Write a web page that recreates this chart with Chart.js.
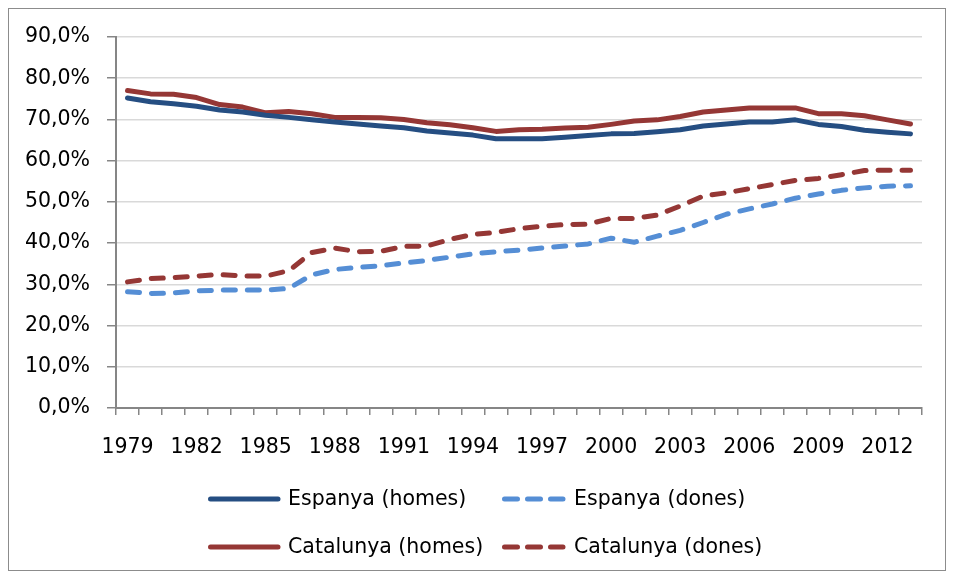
<!DOCTYPE html>
<html><head><meta charset="utf-8">
<script src="https://cdn.jsdelivr.net/npm/chart.js@4/dist/chart.umd.min.js"></script>
<style>html,body{margin:0;padding:0;background:#fff}#wrap{width:954px;height:578px;position:relative}</style>
</head><body><div id="wrap"><canvas id="c" width="954" height="578"></canvas></div>
<script>
const years = ['1979','1980','1981','1982','1983','1984','1985','1986','1987','1988','1989','1990','1991','1992','1993','1994','1995','1996','1997','1998','1999','2000','2001','2002','2003','2004','2005','2006','2007','2008','2009','2010','2011','2012','2013'];
const shownYears = ['1979','1982','1985','1988','1991','1994','1997','2000','2003','2006','2009','2012'];
const yTicks = [0,10,20,30,40,50,60,70,80,90];
const seriesNames = ['Espanya (homes)','Espanya (dones)','Catalunya (homes)','Catalunya (dones)'];
const espanyaHomes = [75.2,74.3,73.8,73.2,72.3,71.8,71.0,70.5,69.9,69.4,68.9,68.4,68.0,67.2,66.7,66.2,65.3,65.3,65.3,65.7,66.1,66.5,66.6,67.0,67.5,68.4,68.9,69.4,69.4,69.9,68.8,68.3,67.4,66.9,66.5];
const espanyaDones = [28.2,27.8,27.9,28.4,28.6,28.6,28.6,29.0,32.3,33.6,34.1,34.5,35.2,35.8,36.6,37.4,37.9,38.3,38.8,39.3,39.8,41.2,40.2,41.7,43.1,45.0,47.0,48.3,49.5,50.9,51.9,52.8,53.4,53.8,53.9];
const catalunyaHomes = [77.0,76.2,76.1,75.3,73.6,73.0,71.6,71.9,71.4,70.5,70.5,70.4,70.0,69.2,68.7,68.0,67.1,67.5,67.6,67.9,68.1,68.8,69.6,69.9,70.7,71.8,72.3,72.8,72.8,72.8,71.4,71.4,70.9,69.9,68.9];
const catalunyaDones = [30.6,31.4,31.6,32.0,32.4,32.0,32.0,33.3,37.7,38.8,37.9,38.0,39.2,39.3,40.9,42.1,42.6,43.5,44.1,44.5,44.6,46.0,46.0,46.8,49.0,51.4,52.2,53.2,54.2,55.2,55.7,56.6,57.6,57.7,57.7];

const FONT = 'DejaVu Sans';
const FSIZE = 20.5;
const AXIS = '#868686';
const BLUE_DARK = '#254E82', BLUE_LIGHT = '#558ED5', RED = '#953735';

const fmtPct = v => v.toFixed(1).replace('.', ',') + '%';

const extras = {
  id: 'extras',
  afterDraw(chart) {
    const ctx = chart.ctx;
    ctx.save();
    // outer frame
    ctx.strokeStyle = '#8c8c8c';
    ctx.lineWidth = 1;
    ctx.strokeRect(8.5, 8.5, 937, 562);
    // legend
    const pos = [{x: 208, y: 499}, {x: 502, y: 499}, {x: 208, y: 547}, {x: 502, y: 547}];
    chart.data.datasets.forEach((ds, i) => {
      const p = pos[i];
      ctx.beginPath();
      ctx.strokeStyle = ds.borderColor;
      ctx.lineWidth = 5;
      ctx.lineCap = 'round';
      if (ds.borderDash) {
        ctx.setLineDash([13, 10]);
        ctx.moveTo(p.x + 2.5, p.y); ctx.lineTo(p.x + 61, p.y);
      } else {
        ctx.setLineDash([]);
        ctx.moveTo(p.x + 2.5, p.y); ctx.lineTo(p.x + 70, p.y);
      }
      ctx.stroke();
      ctx.setLineDash([]);
      ctx.fillStyle = '#000';
      ctx.font = FSIZE + 'px "' + FONT + '"';
      ctx.textBaseline = 'middle';
      ctx.textAlign = 'left';
      ctx.fillText(ds.label, ds.borderDash ? p.x + 72 : p.x + 80, p.y + 1);
    });
    ctx.restore();
  }
};

const lineDs = (label, data, color, dashed) => ({
  label, data,
  borderColor: color, backgroundColor: color,
  borderWidth: 5, pointRadius: 0, tension: 0, fill: false,
  borderCapStyle: 'round', borderJoinStyle: 'round',
  borderDash: dashed ? [12, 12] : undefined
});

new Chart(document.getElementById('c'), {
  type: 'line',
  data: {
    labels: years,
    datasets: [
      lineDs(seriesNames[0], espanyaHomes, BLUE_DARK, false),
      lineDs(seriesNames[1], espanyaDones, BLUE_LIGHT, true),
      lineDs(seriesNames[2], catalunyaHomes, RED, false),
      lineDs(seriesNames[3], catalunyaDones, RED, true)
    ]
  },
  options: {
    responsive: false, animation: false, devicePixelRatio: 1,
    layout: { padding: { left: 0, top: 37, right: 32, bottom: 110 } },
    plugins: { legend: { display: false }, tooltip: { enabled: false } },
    scales: {
      x: {
        offset: true,
        grid: { offset: true, drawOnChartArea: false, drawTicks: true, tickLength: 7, tickColor: AXIS, lineWidth: 1.5 },
        border: { color: AXIS, width: 2 },
        ticks: {
          autoSkip: false, maxRotation: 0, minRotation: 0, padding: 20, color: '#000',
          font: { family: FONT, size: FSIZE },
          callback: (v, i) => shownYears.includes(years[i]) ? years[i] : ''
        },
        afterFit(s) { s.height = 60; }
      },
      y: {
        min: 0, max: 90,
        afterBuildTicks(s) { s.ticks = yTicks.map(v => ({ value: v })); },
        ticks: { padding: 17, color: '#000', font: { family: FONT, size: FSIZE }, callback: v => fmtPct(v) },
        grid: { color: '#d9d9d9', lineWidth: 1.5, drawTicks: true, tickLength: 9, tickColor: AXIS },
        border: { color: AXIS, width: 2 },
        afterFit(s) { s.width = 116; }
      }
    }
  },
  plugins: [extras]
});
</script>
</body></html>
